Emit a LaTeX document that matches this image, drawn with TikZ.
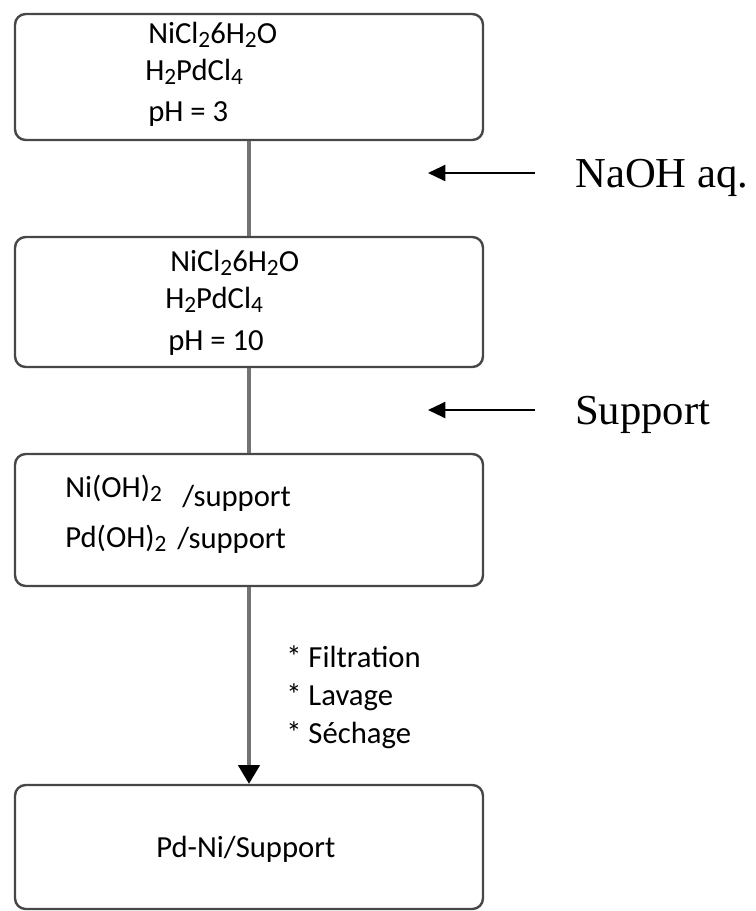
\documentclass[tikz,border=0pt]{standalone}
\usepackage{fontspec}
\setmainfont{Carlito}
\newfontfamily\notefont{Liberation Serif}
\usetikzlibrary{positioning,arrows.meta}
\newcommand*\chsub[1]{\raisebox{-0.15em}{\fontsize{17.5}{17.5}\selectfont #1}}
\tikzset{
	stepbox/.style={
		rectangle,
		rounded corners=8pt,
		draw=black!72, line width=1.8pt,
		minimum width=351pt,
		inner sep=0pt},
	chem/.style={anchor=base west, inner sep=0pt,
		font=\fontsize{23}{28.5}\selectfont},
	note/.style={anchor=base west, inner sep=0pt,
		font=\notefont\fontsize{32}{38}\selectfont},
	link/.style={draw=black!55, line width=2.4pt},
	feed/.style={draw=black, line width=1.6pt,
		-{Triangle[length=13pt,width=12pt]}},
}

\begin{document}
\begin{tikzpicture}[x=0.75pt,y=-0.75pt]
\useasboundingbox (0,0) rectangle (756,911);

% the four steps
\node[stepbox, minimum height=94.5pt] (acid) at (249,77) {};
\node[stepbox, minimum height=97.5pt] (basic) at (249,302) {};
\node[stepbox, minimum height=99pt] (hydrox) at (249,520) {};
\node[stepbox, minimum height=93pt] (final) at (249,847) {};

% contents
\node[chem] (acid1) at (148,43) {NiCl\chsub{2}6H\chsub{2}O};
\node[chem] (acid2) at (145,80) {H\chsub{2}PdCl\chsub{4}};
\node[chem] (acid3) at (148,121) {pH = 3};
\node[chem] (basic1) at (170,271) {NiCl\chsub{2}6H\chsub{2}O};
\node[chem] (basic2) at (165,308) {H\chsub{2}PdCl\chsub{4}};
\node[chem] (basic3) at (168,350) {pH = 10};
\node[chem] (hydrox1) at (65,497) {Ni(OH)\chsub{2}};
\node[chem] (hydrox1s) at (182,506) {/support};
\node[chem] (hydrox2) at (65,547) {Pd(OH)\chsub{2}};
\node[chem] (hydrox2s) at (177,548) {/support};
\node[chem] (final1) at (156,857) {Pd-Ni/Support};

% links
\draw[link] (acid.south) -- (basic.north);
\draw[link] (basic.south) -- (hydrox.north);
\draw[link, -{Triangle[length=14pt,width=16pt,black]}] (hydrox.south) -- (final.north);
\node[chem, align=left, anchor=north west] (treat) at (286,645)
	{* Filtration\\* Lavage\\* Séchage};

% reagents
\node[note] (naoh) at (575,187) {NaOH aq.};
\coordinate (naohstart) at (535,173);
\coordinate (naohend) at (428,173);
\draw[feed] (naohstart) -- (naohend);
\node[note] (supp) at (575,424) {Support};
\coordinate (suppstart) at (535,410);
\coordinate (suppend) at (428,410);
\draw[feed] (suppstart) -- (suppend);
\end{tikzpicture}
\end{document}
